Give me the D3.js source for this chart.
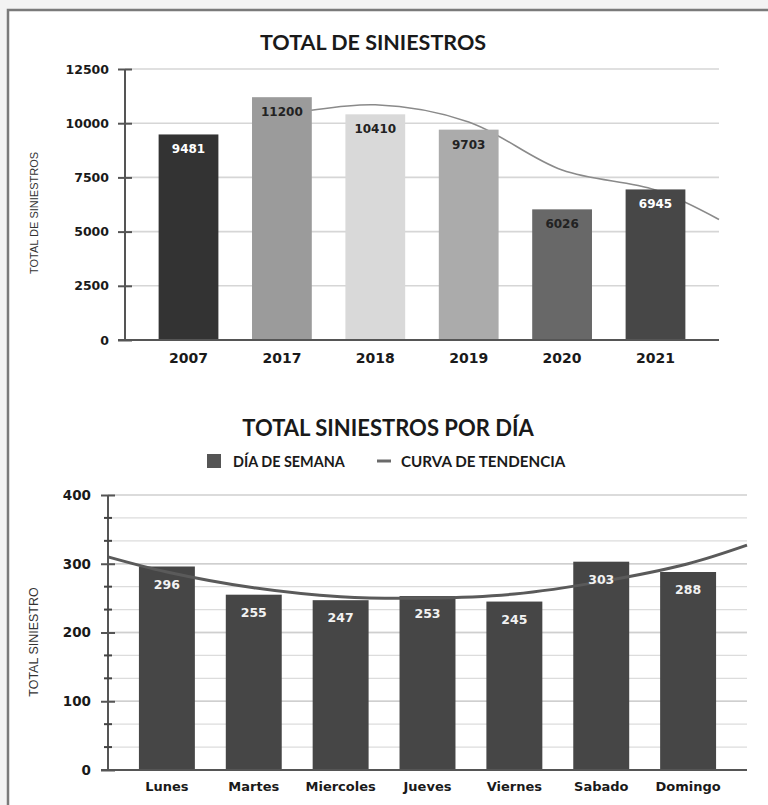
<!DOCTYPE html>
<html>
<head>
<meta charset="utf-8">
<script src="https://cdn.jsdelivr.net/npm/d3@7"></script>
<style>
  html, body { margin: 0; padding: 0; background: #f3f3f3; }
  svg { display: block; }
</style>
</head>
<body>
<svg id="chart" width="768" height="805"></svg>
<script>
// ---------- DATA ----------
const years = ["2007", "2017", "2018", "2019", "2020", "2021"];
const totals = [9481, 11200, 10410, 9703, 6026, 6945];
const yearColors = ["#333333", "#9b9b9b", "#d9d9d9", "#ababab", "#686868", "#474747"];
const yearLabelColors = ["#ffffff", "#222222", "#222222", "#222222", "#222222", "#ffffff"];
// trend (moving-average style); null = not drawn
const trendTotals = [null, 10380, 10850, 10060, 7840, 6920];
const trendTotalsEnd = 5560; // value where the trend meets the right end of the plot
const ticks1 = [0, 2500, 5000, 7500, 10000, 12500];

const days = ["Lunes", "Martes", "Miercoles", "Jueves", "Viernes", "Sabado", "Domingo"];
const dayTotals = [296, 255, 247, 253, 245, 303, 288];
const trendDays = [288, 265, 252, 250, 256, 274, 300];
const trendDaysStart = 310; // at left edge of plot
const trendDaysEnd = 327;   // at right edge of plot
const ticks2 = [0, 100, 200, 300, 400];
const minorStep2 = 100 / 3;

const svg = d3.select("#chart");
const FT = "'Lato', 'Open Sans', sans-serif";
const FN = "'DejaVu Sans', Verdana, sans-serif";
const FA = "'Liberation Sans Narrow', 'Liberation Sans', sans-serif";

// frame
svg.append("rect").attr("x", 8).attr("y", 10).attr("width", 800).attr("height", 820)
  .attr("fill", "#ffffff").attr("stroke", "#7a7a7a").attr("stroke-width", 2.5);

// ================= CHART 1 =================
const x1 = d3.scaleBand().domain(years).range([125, 719]).paddingInner(0.36).paddingOuter(0.36);
const y1 = d3.scaleLinear().domain([0, 12500]).range([340, 69]);

svg.append("text").attr("x", 373).attr("y", 50).attr("text-anchor", "middle")
  .attr("font-family", FT).attr("font-weight", 700).attr("font-size", 21.5).attr("fill", "#1a1a1a")
  .text("TOTAL DE SINIESTROS");

// gridlines
svg.append("g").selectAll("line").data(ticks1.filter(d => d > 0)).join("line")
  .attr("x1", 125).attr("x2", 719).attr("y1", d => y1(d)).attr("y2", d => y1(d))
  .attr("stroke", "#d6d6d6").attr("stroke-width", 1.6);

// trend line (behind bars)
const tPts1 = years.map((y, i) => [x1(y) + x1.bandwidth() / 2, trendTotals[i]]).filter(d => d[1] !== null);
tPts1.push([x1.range()[1], trendTotalsEnd]);
svg.append("path").datum(tPts1)
  .attr("d", d3.line().x(d => d[0]).y(d => y1(d[1])).curve(d3.curveCatmullRom.alpha(0.5)))
  .attr("fill", "none").attr("stroke", "#8a8a8a").attr("stroke-width", 1.6);

// bars
svg.append("g").selectAll("rect").data(years).join("rect")
  .attr("x", d => x1(d)).attr("width", x1.bandwidth())
  .attr("y", (d, i) => y1(totals[i])).attr("height", (d, i) => y1(0) - y1(totals[i]))
  .attr("fill", (d, i) => yearColors[i]);

// value labels
svg.append("g").selectAll("text").data(years).join("text")
  .attr("x", d => x1(d) + x1.bandwidth() / 2).attr("y", (d, i) => y1(totals[i]) + 19)
  .attr("text-anchor", "middle").attr("font-family", FN).attr("font-weight", 700).attr("font-size", 12)
  .attr("fill", (d, i) => yearLabelColors[i]).text((d, i) => totals[i]);

// y axis
const ay1 = svg.append("g").attr("transform", "translate(125,0)")
  .call(d3.axisLeft(y1).tickValues(ticks1).tickSize(7).tickPadding(9).tickFormat(d3.format("d")));
ay1.select(".domain").attr("stroke", "#555").attr("stroke-width", 2)
  .attr("d", "M0," + y1(12500) + "V" + y1(0));
ay1.selectAll(".tick line").attr("stroke", "#555").attr("stroke-width", 2).attr("x2", 7).attr("x1", -7);
ay1.selectAll(".tick text").attr("font-family", FN).attr("font-weight", 700).attr("font-size", 12.5).attr("fill", "#1a1a1a");

// x axis
const ax1 = svg.append("g").attr("transform", "translate(0," + y1(0) + ")")
  .call(d3.axisBottom(x1).tickSize(0).tickPadding(10));
ax1.select(".domain").attr("d", "M118,0H719").attr("stroke", "#555").attr("stroke-width", 2);
ax1.selectAll(".tick text").attr("font-family", FN).attr("font-weight", 700).attr("font-size", 14).attr("fill", "#1a1a1a")
  .attr("dy", "0.9em");

svg.append("text").attr("transform", "translate(38,213) rotate(-90)").attr("text-anchor", "middle")
  .attr("font-family", FA).attr("font-size", 11).attr("fill", "#333")
  .text("TOTAL DE SINIESTROS");

// ================= CHART 2 =================
const x2 = d3.scaleBand().domain(days).range([108, 747]).paddingInner(0.356).paddingOuter(0.356);
const y2 = d3.scaleLinear().domain([0, 400]).range([770, 495]);

svg.append("text").attr("x", 388).attr("y", 436).attr("text-anchor", "middle")
  .attr("font-family", FT).attr("font-weight", 700).attr("font-size", 22).attr("fill", "#1a1a1a")
  .text("TOTAL SINIESTROS POR DÍA");

// legend
svg.append("rect").attr("x", 207).attr("y", 454).attr("width", 14).attr("height", 14).attr("fill", "#555");
svg.append("text").attr("x", 233).attr("y", 466.5).attr("font-family", FT).attr("font-weight", 700)
  .attr("font-size", 14.4).attr("fill", "#1a1a1a").text("DÍA DE SEMANA");
svg.append("line").attr("x1", 377).attr("x2", 391).attr("y1", 461).attr("y2", 461)
  .attr("stroke", "#6a6a6a").attr("stroke-width", 3);
svg.append("text").attr("x", 401).attr("y", 466.5).attr("font-family", FT).attr("font-weight", 700)
  .attr("font-size", 15.2).attr("fill", "#1a1a1a").text("CURVA DE TENDENCIA");

// gridlines (major + minor)
const minor2 = d3.range(1, 12).map(i => i * minorStep2);
svg.append("g").selectAll("line").data(minor2).join("line")
  .attr("x1", 108).attr("x2", 747).attr("y1", d => y2(d)).attr("y2", d => y2(d))
  .attr("stroke", "#dcdcdc").attr("stroke-width", 1.4);
svg.append("g").selectAll("line").data(ticks2.filter(d => d > 0)).join("line")
  .attr("x1", 108).attr("x2", 747).attr("y1", d => y2(d)).attr("y2", d => y2(d))
  .attr("stroke", "#cfcfcf").attr("stroke-width", 1.6);

// bars
svg.append("g").selectAll("rect").data(days).join("rect")
  .attr("x", d => x2(d)).attr("width", x2.bandwidth())
  .attr("y", (d, i) => y2(dayTotals[i])).attr("height", (d, i) => y2(0) - y2(dayTotals[i]))
  .attr("fill", "#464646");

// trend curve
const tPts2 = [[x2.range()[0], trendDaysStart]]
  .concat(days.map((d, i) => [x2(d) + x2.bandwidth() / 2, trendDays[i]]))
  .concat([[x2.range()[1], trendDaysEnd]]);
svg.append("path").datum(tPts2)
  .attr("d", d3.line().x(d => d[0]).y(d => y2(d[1])).curve(d3.curveCatmullRom))
  .attr("fill", "none").attr("stroke", "#5a5a5a").attr("stroke-width", 3);

svg.append("g").selectAll("text").data(days).join("text")
  .attr("x", d => x2(d) + x2.bandwidth() / 2).attr("y", (d, i) => y2(dayTotals[i]) + 22)
  .attr("text-anchor", "middle").attr("font-family", FN).attr("font-weight", 700).attr("font-size", 12.5)
  .attr("fill", "#f2f2f2").text((d, i) => dayTotals[i]);

// y axis
const ay2 = svg.append("g").attr("transform", "translate(108,0)")
  .call(d3.axisLeft(y2).tickValues(ticks2).tickSize(7).tickPadding(10).tickFormat(d3.format("d")));
ay2.select(".domain").attr("d", "M0," + y2(400) + "V" + y2(0)).attr("stroke", "#555").attr("stroke-width", 2);
ay2.selectAll(".tick line").attr("stroke", "#555").attr("stroke-width", 2).attr("x1", -7).attr("x2", 7);
ay2.selectAll(".tick text").attr("font-family", FN).attr("font-weight", 700).attr("font-size", 13.5).attr("fill", "#1a1a1a");
svg.append("g").selectAll("line").data(minor2.filter(d => Math.abs(d % 100) > 1 && Math.abs(d % 100 - 100) > 1)).join("line")
  .attr("x1", 104).attr("x2", 112).attr("y1", d => y2(d)).attr("y2", d => y2(d))
  .attr("stroke", "#444").attr("stroke-width", 2);

// x axis
const ax2 = svg.append("g").attr("transform", "translate(0," + y2(0) + ")")
  .call(d3.axisBottom(x2).tickSize(0).tickPadding(10));
ax2.select(".domain").attr("d", "M101,0H747").attr("stroke", "#555").attr("stroke-width", 2);
ax2.selectAll(".tick text").attr("font-family", FN).attr("font-weight", 700).attr("font-size", 13).attr("fill", "#1a1a1a")
  .attr("dy", "0.85em");

svg.append("text").attr("transform", "translate(38,642) rotate(-90)").attr("text-anchor", "middle")
  .attr("font-family", FA).attr("font-size", 12.5).attr("fill", "#333")
  .text("TOTAL SINIESTRO");
</script>
</body>
</html>
